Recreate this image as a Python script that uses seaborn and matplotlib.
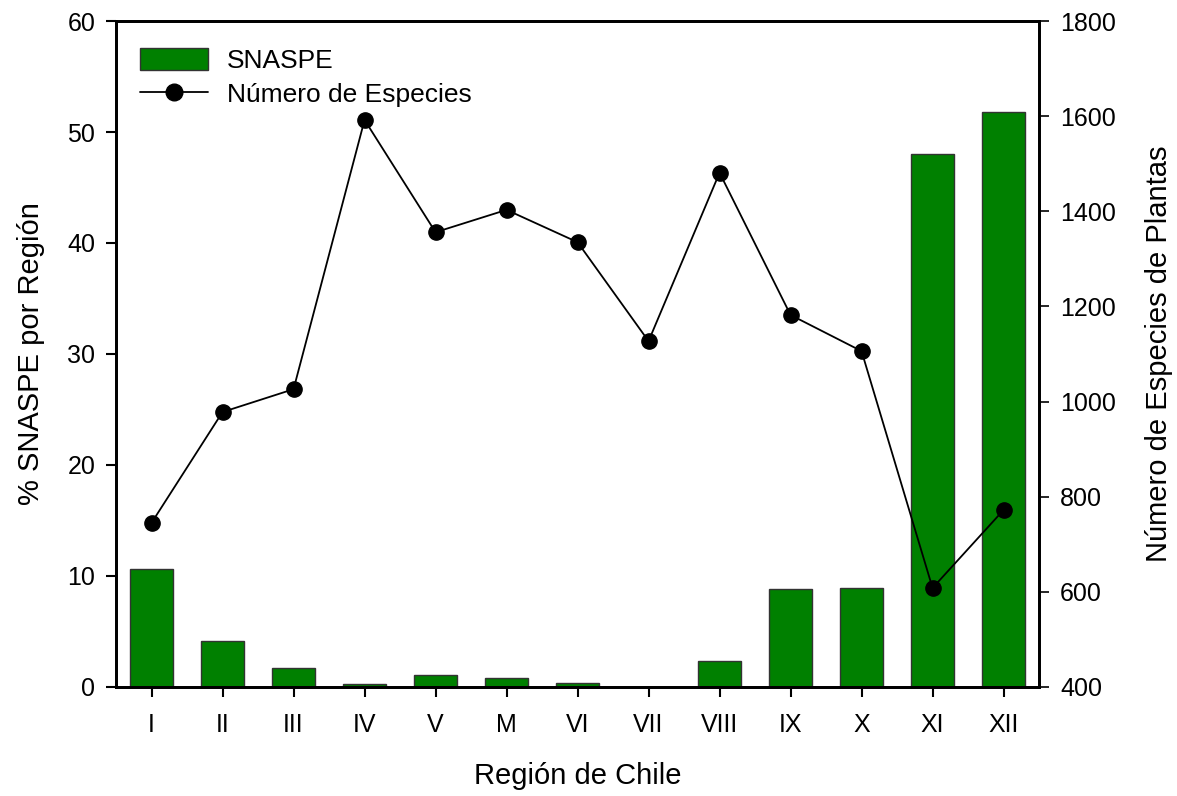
import numpy as np
import pandas as pd
import matplotlib
matplotlib.use('Agg')
import matplotlib.pyplot as plt
import seaborn as sns
from matplotlib.patches import Patch
from matplotlib.lines import Line2D

regiones = ['I', 'II', 'III', 'IV', 'V', 'M', 'VI', 'VII', 'VIII', 'IX', 'X', 'XI', 'XII']
snaspe = [10.6, 4.1, 1.7, 0.3, 1.1, 0.8, 0.4, 0.0, 2.3, 8.8, 8.9, 48.0, 51.8]
especies = [745, 978, 1026, 1592, 1356, 1403, 1335, 1127, 1481, 1182, 1106, 608, 772]

sns.set_style('ticks')
plt.rcParams['font.family'] = ['Liberation Sans', 'DejaVu Sans']
plt.rcParams['text.color'] = 'black'
plt.rcParams['axes.labelcolor'] = 'black'
plt.rcParams['xtick.color'] = 'black'
plt.rcParams['ytick.color'] = 'black'

df = pd.DataFrame({'Region': regiones, 'SNASPE': snaspe, 'Especies': especies})

fig = plt.figure(figsize=(11.77, 7.96), dpi=100)
ax = fig.add_axes([0.0986, 0.137, 0.7842, 0.8366])

sns.barplot(data=df, x='Region', y='SNASPE', order=regiones, color='#008000',
            saturation=1, width=0.6, edgecolor='#333333', linewidth=1, ax=ax)
ax.set_ylim(0, 60)
ax.set_xlim(-0.5, 12.5)
ax.set_yticks(range(0, 61, 10))
ax.set_xlabel('Región de Chile', fontsize=21, labelpad=18)
ax.set_ylabel('% SNASPE por Región', fontsize=21, labelpad=16)
ax.tick_params(axis='both', labelsize=18, direction='out', length=7, width=1.5, pad=8)
ax.tick_params(axis='x', top=False, pad=12)

ax2 = ax.twinx()
sns.pointplot(data=df, x='Region', y='Especies', order=regiones, color='black',
              markers='o', markersize=11, linewidth=1.3, ax=ax2)
ax2.set_xlim(-0.5, 12.5)
ax2.set_ylim(400, 1800)
ax2.set_yticks(range(400, 1801, 200))
ax2.set_ylabel('Número de Especies de Plantas', fontsize=21, labelpad=21)
ax2.tick_params(axis='y', labelsize=18, direction='out', length=7, width=1.2, pad=8)

for a in (ax, ax2):
    for s in a.spines.values():
        s.set_visible(True)
        s.set_linewidth(2)
        s.set_color('black')

handles = [Patch(facecolor='#008000', edgecolor='#333333', label='SNASPE'),
           Line2D([0], [0], color='black', marker='o', markersize=12, lw=1.3, label='Número de Especies')]
ax2.legend(handles=handles, loc='upper left', frameon=False, fontsize=19,
           bbox_to_anchor=(0.0, 0.995), handlelength=2.6, handletextpad=0.7,
           labelspacing=0.35, handleheight=0.9)

fig.savefig('out.png', dpi=100)
